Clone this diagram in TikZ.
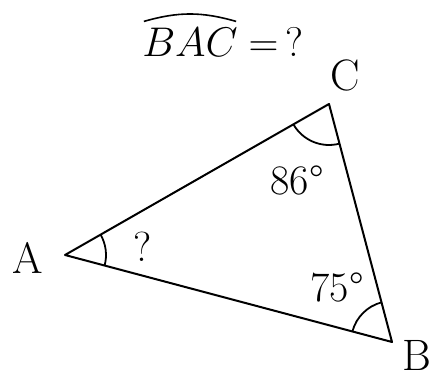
\documentclass[tikz,border=0pt]{standalone}
\usetikzlibrary{positioning,angles}

\begin{document}
\begin{tikzpicture}[x=0.5pt, y=0.5pt,
  side/.style={draw, line width=1pt, line join=round},
  anglearc/.style={draw, line width=0.9pt, angle radius=20.5pt},
  vlabel/.style={font=\fontsize{22}{26}\selectfont, inner sep=0pt},
  deglabel/.style={font=\fontsize{21}{25}\selectfont, inner sep=0pt},
  ttl/.style={font=\fontsize{21}{25}\selectfont, inner sep=0pt}
]
\useasboundingbox (0,0) rectangle (439,379);

% corners of the triangle
\coordinate (A) at (65,124);
\coordinate (B) at (392,37);
\coordinate (C) at (329,275);

\draw[side] (A) -- (B) -- (C) -- cycle;

% angle marks
\pic[anglearc] {angle = B--A--C};
\pic[anglearc] {angle = A--C--B};
\pic[anglearc] {angle = C--B--A};

% vertex names
\node[vlabel] (lblA) at (28,121) {A};
\node[vlabel] (lblB) at (417,24) {B};
\node[vlabel] (lblC) at (345,304) {C};

% angle values
\node[deglabel] (angC) at (297,199) {86°};
\node[deglabel] (angB) at (337,92) {75°};
\node[deglabel] (angA) at (143,132) {?};

% question
\node[ttl] (bac) at (190,337) {$BAC$};
\node[ttl, right=5pt of bac] (eqq) {$=\,?$};
\draw[line width=0.8pt] ([xshift=1pt,yshift=3pt]bac.north west)
  to[bend left=16] ([xshift=-1pt,yshift=3pt]bac.north east);
\end{tikzpicture}
\end{document}
